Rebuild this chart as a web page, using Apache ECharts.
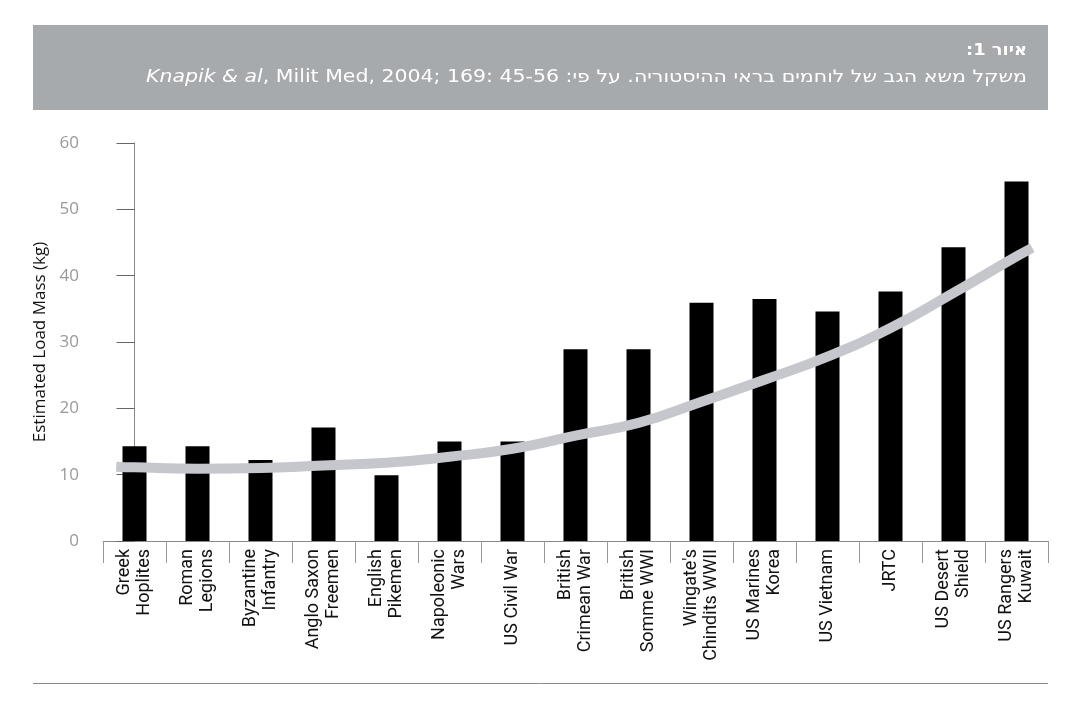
<!DOCTYPE html>
<html><head><meta charset="utf-8">
<script src="https://cdn.jsdelivr.net/npm/echarts@6/dist/echarts.min.js"></script>
<style>html,body{margin:0;padding:0;background:#fff}#c{width:1080px;height:710px}</style>
</head><body><div id="c"></div>
<script>
const categories = ["Greek\nHoplites","Roman\nLegions","Byzantine\nInfantry","Anglo Saxon\nFreemen","English\nPikemen","Napoleonic\nWars","US Civil War","British\nCrimean War","British\nSomme WWI","Wingate's\nChindits WWII","US Marines\nKorea","US Vietnam","JRTC","US Desert\nShield","US Rangers\nKuwait"];
const loadMass = [14.3,14.3,12.2,17.1,9.9,15.0,15.0,28.9,28.9,35.9,36.5,34.6,37.6,44.3,54.2];
const trendX = [-0.29,0,1,2,3,4,5,6,7,8,9,10,11,12,13,14,14.25];
const trendY = [11.2,11.1,10.9,11.0,11.4,11.8,12.7,13.9,15.9,17.8,21.0,24.3,27.8,32.1,37.4,42.9,44.2];
const yTicks = {min:0,max:60,interval:10};
const yName = "Estimated Load Mass (kg)";
const headTitle = ":1 איור";
const headItalic = "Knapik & al";
const headRest = ", Milit Med, 2004; 169: 45-56 :משקל משא הגב של לוחמים בראי ההיסטוריה. על פי";

const headFont = '"DejaVu Sans",sans-serif';
const mctx = document.createElement('canvas').getContext('2d');
function w(font, t){ mctx.font = font; return mctx.measureText(t).width; }
const titleFont = 'bold 16px ' + headFont;
const titleScale = 61 / w(titleFont, headTitle);
const subScale = 881 / (w('italic 17px ' + headFont, headItalic) + w('17px ' + headFont, headRest));

const chart = echarts.init(document.getElementById('c'), null, {renderer:'canvas'});
chart.setOption({
  animation:false,
  grid:{left:103,right:32,top:143,bottom:169,containLabel:false},
  xAxis:[{
    type:'category',data:categories,
    axisLine:{lineStyle:{color:'#888',width:1}},
    axisTick:{show:true,length:22,lineStyle:{color:'#999'}},
    axisLabel:{rotate:90,margin:8,color:'#111',fontFamily:'Roboto',fontSize:18,lineHeight:20,interval:0}
  },{
    type:'value',min:-0.5,max:14.5,show:false
  }],
  yAxis:{
    type:'value',min:yTicks.min,max:yTicks.max,interval:yTicks.interval,
    name:yName,nameLocation:'middle',nameGap:52,
    nameTextStyle:{color:'#111',fontFamily:'Open Sans',fontSize:17},
    axisLine:{show:true,lineStyle:{color:'#888'}},
    axisTick:{show:true,length:18,lineStyle:{color:'#666'}},
    axisLabel:{margin:24,color:'#999',fontFamily:'Open Sans',fontSize:17},
    splitLine:{show:false}
  },
  series:[{
    type:'bar',data:loadMass,barWidth:24,itemStyle:{color:'#000'},z:2
  },{
    type:'line',xAxisIndex:1,data:trendX.map((x,i)=>[x,trendY[i]]),
    smooth:true,symbol:'none',lineStyle:{color:'#c6c7cc',width:10,cap:'butt'},z:3
  }],
  graphic:[
    {type:'rect',shape:{x:33,y:25,width:1015,height:85},style:{fill:'#a7aaad'},silent:true},
    {type:'text',x:1027,y:50.5,scaleX:titleScale,style:{text:headTitle,fill:'#fff',font:titleFont,align:'right',verticalAlign:'middle'}},
    {type:'text',x:1027,y:77.5,scaleX:subScale,style:{
      text:'{i|'+headItalic+'}{n|'+headRest+'}',align:'right',verticalAlign:'middle',
      rich:{i:{fill:'#fff',fontStyle:'italic',fontSize:17,fontFamily:headFont},n:{fill:'#fff',fontSize:17,fontFamily:headFont}}}},
    {type:'line',shape:{x1:33,y1:683.5,x2:1048,y2:683.5},style:{stroke:'#888',lineWidth:1}}
  ]
});
</script></body></html>
